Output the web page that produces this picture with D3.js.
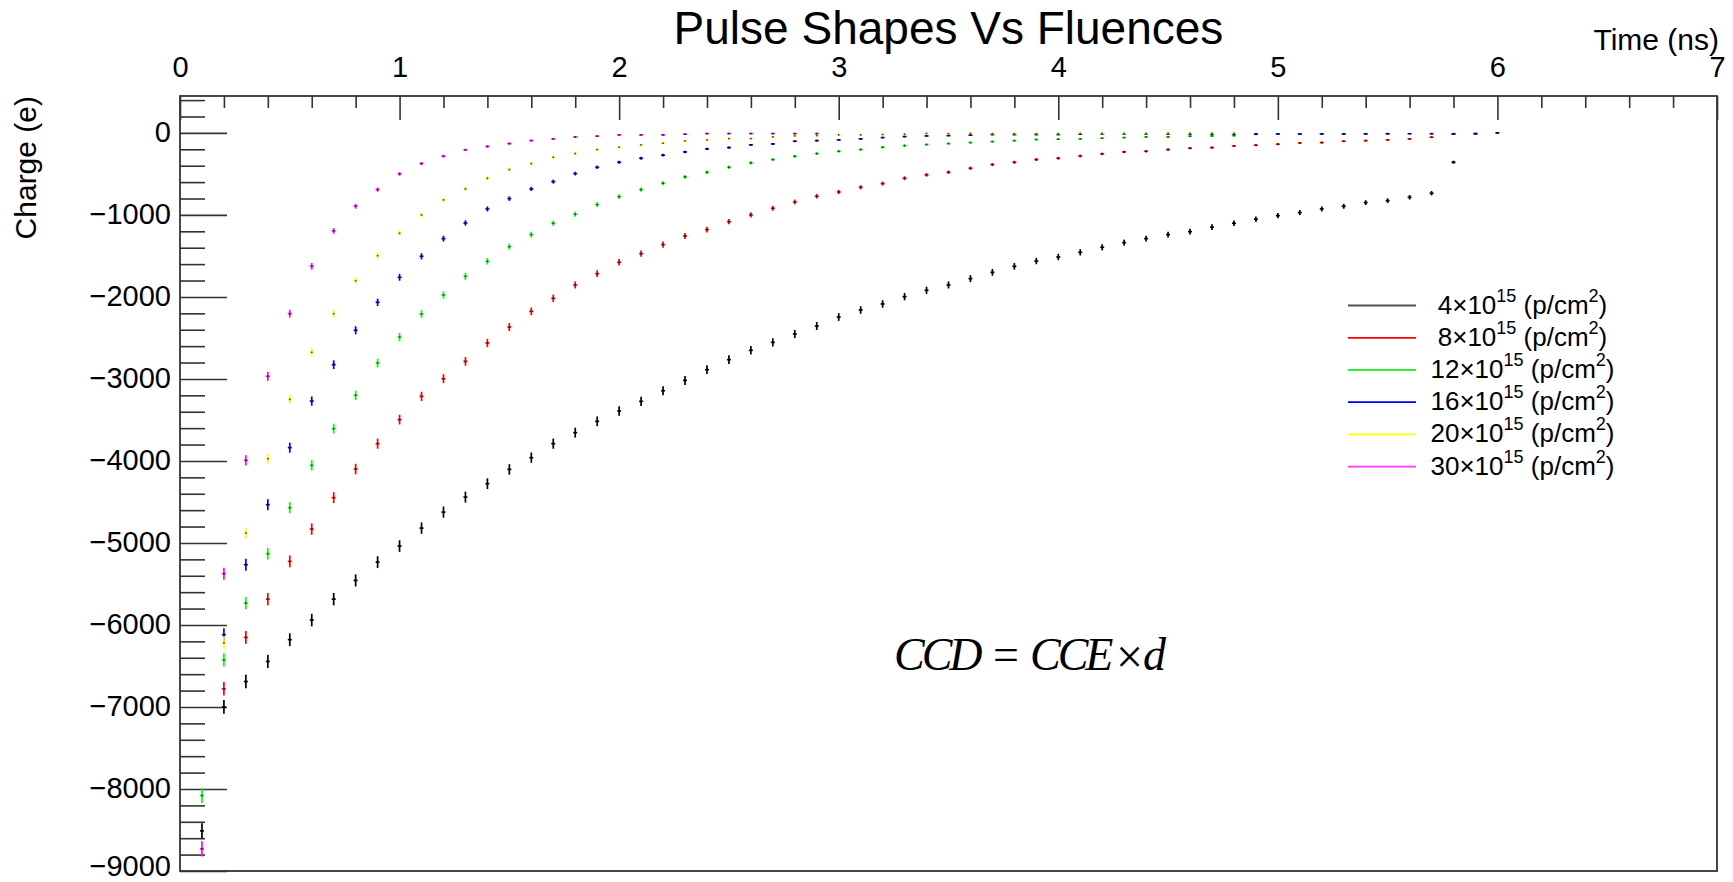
<!DOCTYPE html>
<html><head><meta charset="utf-8">
<script src="https://cdn.jsdelivr.net/npm/d3@7/dist/d3.min.js"></script>
<style>html,body{margin:0;padding:0;background:#fff;}svg{display:block;}</style>
</head><body>
<svg id="chart" width="1733" height="882"></svg>
<script>
// ---------- data ----------
const timeNs = [0.1,0.2,0.3,0.4,0.5,0.6,0.7,0.8,0.9,1.0,
  1.1,1.2,1.3,1.4,1.5,1.6,1.7,1.8,1.9,2.0,
  2.1,2.2,2.3,2.4,2.5,2.6,2.7,2.8,2.9,3.0,
  3.1,3.2,3.3,3.4,3.5,3.6,3.7,3.8,3.9,4.0,
  4.1,4.2,4.3,4.4,4.5,4.6,4.7,4.8,4.9,5.0,
  5.1,5.2,5.3,5.4,5.5,5.6,5.7,5.8,5.9,6.0];

const charge4e15 = [-8510,-7000,-6690,-6445,-6180,-5940,-5685,-5457,-5234,-5038,
  -4819,-4624,-4441,-4277,-4103,-3960,-3789,-3655,-3517,-3391,
  -3273,-3144,-3018,-2887,-2765,-2651,-2554,-2452,-2355,-2245,
  -2159,-2086,-1997,-1919,-1854,-1777,-1700,-1627,-1562,-1513,
  -1456,-1395,-1338,-1289,-1240,-1204,-1149,-1102,-1053,-1009,
  -972,-927,-895,-850,-826,-785,-736,-358,-8,0];

const charge8e15 = [null,-6778,-6152,-5685,-5225,-4831,-4448,-4099,-3789,-3496,
  -3213,-2997,-2786,-2562,-2367,-2176,-2017,-1854,-1716,-1578,
  -1472,-1362,-1257,-1179,-1082,-1000,-919,-842,-773,-720,
  -663,-618,-553,-512,-480,-431,-386,-358,-325,-309,
  -281,-256,-232,-224,-203,-187,-179,-159,-150,-138,
  -122,-118,-102,-94,-85,-73,-53,-16,null,null];

const charge12e15 = [-8080,-6425,-5734,-5131,-4570,-4054,-3606,-3200,-2806,-2489,
  -2208,-1976,-1749,-1566,-1387,-1240,-1102,-992,-874,-777,
  -691,-614,-537,-480,-419,-366,-325,-285,-252,-224,
  -203,-175,-155,-142,-130,-118,-106,-94,-81,-77,
  -73,-65,-57,-49,-49,-41,-37,-33,-18,-14,
  -12,-12,-12,-10,-10,null,null,null,null,null];

const charge16e15 = [null,-6119,-5265,-4533,-3838,-3270,-2826,-2407,-2066,-1761,
  -1505,-1289,-1098,-927,-801,-683,-594,-496,-419,-358,
  -309,-272,-232,-195,-179,-146,-134,-102,-94,-85,
  -73,-57,-45,-37,-33,-28,-20,-20,-20,-20,
  -16,-12,-12,-12,-12,-12,-12,-12,-12,-12,
  -12,-12,-12,-12,-10,-10,-10,-10,-10,null];

const charge20e15 = [null,-6217,-4880,-3972,-3250,-2676,-2204,-1802,-1497,-1224,
  -1000,-817,-683,-553,-447,-374,-297,-252,-203,-175,
  -146,-126,-98,-85,-69,-69,-49,-37,-33,-24,
  -24,-20,-16,-6,-8,-6,-8,-8,-8,-8,
  -6,-6,-6,-6,-4,-4,-4,-4,null,null,
  null,null,null,null,null,null,null,null,null,null];

const charge30e15 = [-8730,-5375,-3993,-2968,-2204,-1626,-1195,-894,-691,-500,
  -374,-284,-207,-166,-130,-93,-73,-49,-40,-24,
  -24,-24,-16,-8,-8,-8,-8,-8,-8,null,
  null,null,null,null,null,null,null,null,null,null,
  null,null,null,null,null,null,null,null,null,null,
  null,null,null,null,null,null,null,null,null,null];

const fluenceLabels = ["4","8","12","16","20","30"];
const seriesColors = ["#000000","#ff0000","#00ff00","#0000ff","#ffff00","#ff00ff"];
const legendLineColors = ["#555555","#ff0000","#33ee33","#0000ff","#ffff00","#ff33ff"];
const seriesValues = [charge4e15, charge8e15, charge12e15, charge16e15, charge20e15, charge30e15];

const xMajorTicks = [0,1,2,3,4,5,6,7];
const yMajorTicks = [0,-1000,-2000,-3000,-4000,-5000,-6000,-7000,-8000,-9000];

const chartTitle = "Pulse Shapes Vs Fluences";
const xTitle = "Time (ns)";
const yTitle = "Charge (e)";

// ---------- layout ----------
const frame = {left:180, right:1717, top:96, bottom:871};
const svg = d3.select("#chart");
const font = "'Liberation Sans', Arial, Helvetica, sans-serif";

const x = d3.scaleLinear().domain([0,7]).range([frame.left, frame.right]);
const y = d3.scaleLinear().domain([-9000, 450]).range([frame.bottom, frame.top]);

const xMinor = d3.range(0.2, 7, 0.2).filter(v => Math.abs(v - Math.round(v)) > 1e-6);
const yMinor = d3.range(-8800, 450, 200).filter(v => v % 1000 !== 0);

// x axis on top, ticks pointing into plot
const gxMinor = svg.append("g").attr("transform",`translate(0,${frame.top})`)
  .call(d3.axisTop(x).tickValues(xMinor).tickSize(-12).tickFormat(""));
const gx = svg.append("g").attr("transform",`translate(0,${frame.top})`)
  .call(d3.axisTop(x).tickValues(xMajorTicks).tickSize(-24).tickPadding(19).tickFormat(d3.format("d")));

const gyMinor = svg.append("g").attr("transform",`translate(${frame.left},0)`)
  .call(d3.axisLeft(y).tickValues(yMinor).tickSize(-25).tickFormat(""));
const gy = svg.append("g").attr("transform",`translate(${frame.left},0)`)
  .call(d3.axisLeft(y).tickValues(yMajorTicks).tickSize(-47).tickPadding(9).tickFormat(d3.format("d")));

[gxMinor, gx, gyMinor, gy].forEach(g => {
  g.select(".domain").remove();
  g.selectAll(".tick line").attr("stroke","#333").attr("stroke-width",1.6);
  g.selectAll(".tick text").attr("fill","#000").style("font-family",font).style("font-size","29px");
});
gy.selectAll(".tick text").attr("dy", d => d === -9000 ? "0.16em" : "0.3em");

// frame
svg.append("rect").attr("x",frame.left).attr("y",frame.top)
  .attr("width",frame.right-frame.left).attr("height",frame.bottom-frame.top)
  .attr("fill","none").attr("stroke","#333").attr("stroke-width",1.8);

// titles
svg.append("text").attr("x",(frame.left+frame.right)/2).attr("y",44)
  .attr("text-anchor","middle").style("font-family",font).style("font-size","46px")
  .text(chartTitle);
svg.append("text").attr("x",1719).attr("y",50).attr("text-anchor","end")
  .style("font-family",font).style("font-size","30px").text(xTitle);
svg.append("text").attr("transform","translate(36,96) rotate(-90)").attr("text-anchor","end")
  .style("font-family",font).style("font-size","30px").text(yTitle);

// data points with error bars (Poisson errors, as ROOT computes them)
const plot = svg.append("g");
seriesValues.forEach((vals, si) => {
  const pts = timeNs.map((t,i) => ({t, v: vals[i]})).filter(d => d.v !== null);
  const g = plot.append("g");
  const pt = g.selectAll("g").data(pts).join("g")
    .attr("transform", d => `translate(${x(d.t)},${y(d.v)})`);
  pt.append("line")
    .attr("x1",0).attr("x2",0)
    .attr("y1", d => y(d.v + Math.sqrt(Math.abs(d.v))) - y(d.v))
    .attr("y2", d => y(d.v - Math.sqrt(Math.abs(d.v))) - y(d.v))
    .attr("stroke", seriesColors[si]).attr("stroke-width",1.7);
  pt.append("line").attr("x1",-2).attr("x2",2).attr("y1",0).attr("y2",0)
    .attr("stroke", seriesColors[si]).attr("stroke-width",1.6);
  pt.append("rect").attr("x",-0.8).attr("y",-0.8).attr("width",1.6).attr("height",1.6)
    .attr("fill","#000").attr("opacity",0.75);
});

// legend
const legRowY = [305.5, 337.8, 370, 402.2, 434.4, 466.6];
const legend = svg.append("g");
fluenceLabels.forEach((lab, i) => {
  legend.append("line").attr("x1",1348).attr("x2",1416)
    .attr("y1",legRowY[i]).attr("y2",legRowY[i])
    .attr("stroke",legendLineColors[i]).attr("stroke-width",1.8);
  const t = legend.append("text").attr("x",1522.5).attr("y",legRowY[i]+8)
    .attr("text-anchor","middle").style("font-family",font).style("font-size","26px");
  t.append("tspan").text(lab + "\u00d710");
  t.append("tspan").attr("dy",-12).style("font-size","18px").text("15");
  t.append("tspan").attr("dy",12).text(" (p/cm");
  t.append("tspan").attr("dy",-12).style("font-size","18px").text("2");
  t.append("tspan").attr("dy",12).text(")");
});

// formula annotation
const serif = "'Liberation Serif', 'Times New Roman', Times, serif";
const fy = 670;
const formula = [
  {s:"CCD", x:894, dy:0, it:true, size:46, ls:-3},
  {s:"=", x:993, dy:0, it:false, size:46, ls:0},
  {s:"CCE", x:1030, dy:0, it:true, size:46, ls:-3},
  {s:"\u00d7", x:1116, dy:3, it:false, size:48, ls:0},
  {s:"d", x:1143, dy:0, it:true, size:46, ls:0}
];
formula.forEach(p => {
  svg.append("text").attr("x",p.x).attr("y",fy + p.dy)
    .style("font-family",serif).style("font-size",p.size+"px")
    .style("letter-spacing",p.ls+"px")
    .style("font-style", p.it ? "italic" : "normal").text(p.s);
});
</script>
</body></html>
